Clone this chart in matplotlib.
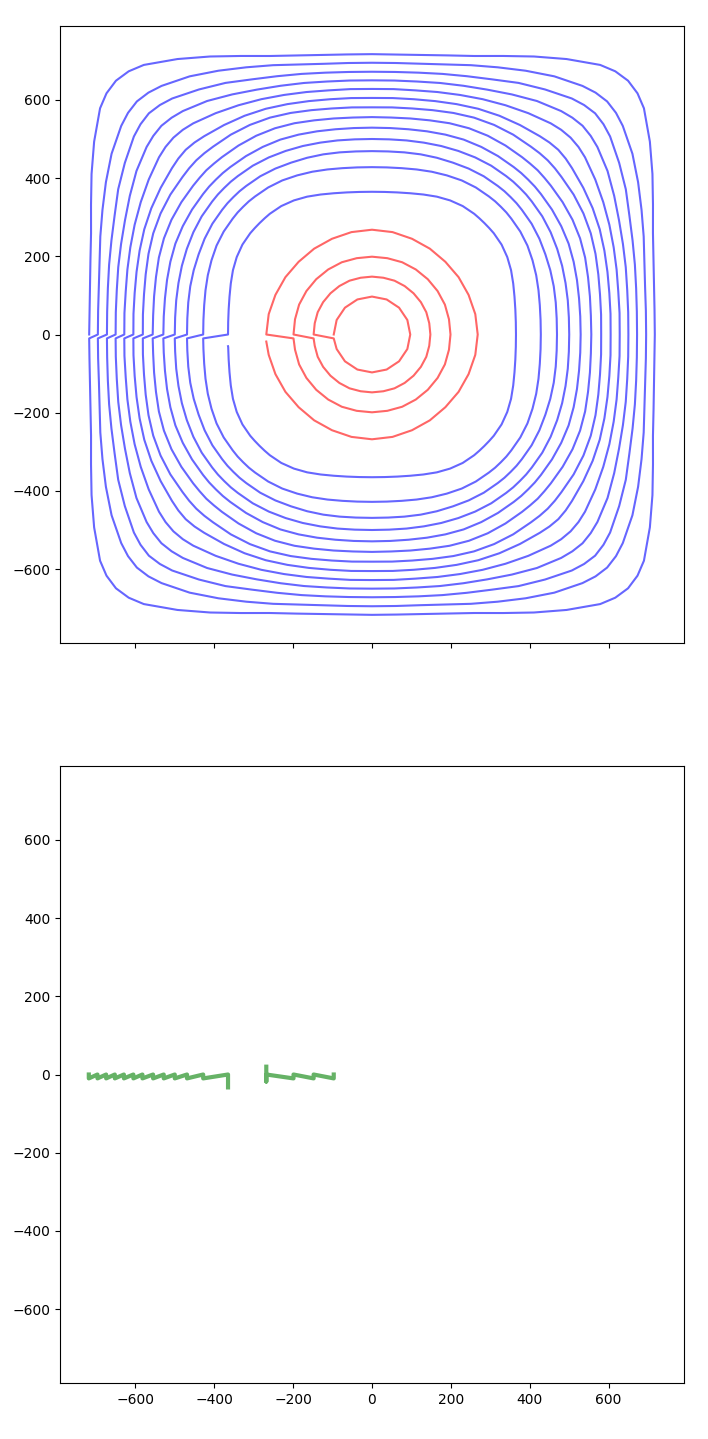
import numpy as np
import matplotlib
matplotlib.use("Agg")
import matplotlib.pyplot as plt

# Blue loops, inner to outer: radius (data units) at angle from the axis (degrees), one octant
blue_angles = [0, 5, 10, 15, 20, 25, 30, 35, 40, 42.5, 45]
blue_radii = [
    [365, 366, 369, 374, 381, 389, 396, 401, 403, 403, 403],
    [428, 429, 432, 437, 443, 449, 455, 459, 461, 462, 462],
    [469, 470, 473, 477, 481, 485, 490, 494, 496, 497, 497],
    [500, 501, 504, 508, 513, 518, 523, 527, 529, 530, 530],
    [529, 530, 533, 538, 544, 550, 554, 557, 559, 560, 560],
    [556, 557, 561, 567, 575, 582, 587, 590, 592, 593, 594],
    [581, 583, 587, 594, 603, 612, 619, 624, 627, 629, 630],
    [605, 607, 611, 618, 627, 637, 646, 654, 662, 666, 668],
    [628, 630, 634, 642, 652, 664, 677, 691, 705, 710, 712],
    [650, 652, 657, 666, 677, 691, 709, 729, 746, 752, 755],
    [672, 674, 680, 690, 703, 720, 743, 765, 788, 796, 800],
    [695, 697, 703, 715, 733, 754, 779, 806, 830, 839, 843],
    [717, 719, 726, 739, 758, 786, 821, 860, 900, 913, 918],
]
blue_start_drop = [30, 10, 10, 10, 10, 10, 10, 10, 10, 10, 10, 10, 10]

# Red loops, outer to inner
red_angles = [
    [0, 11.25, 22.5, 33.75, 45],
    [0, 11.25, 22.5, 33.75, 45],
    [0, 11.25, 22.5, 33.75, 45],
    [0, 22.5, 45],
]
red_radii = [
    [268, 267, 265, 264, 263],
    [199, 199, 200, 200, 200],
    [148, 148, 149, 149, 149],
    [97, 97, 97],
]
red_start_drop = [18, 10, 10, 10]

# Green stems
green_left_x = [-718, -718, -696, -696, -674, -674, -652, -652, -629, -629, -605, -605,
                -582, -582, -555, -555, -528, -528, -500, -500, -469, -469, -428, -428,
                -365, -365]
green_left_y = [0, -10, 0, -10, 0, -10, 0, -10, 0, -10, 0, -10, 0, -10, 0, -10, 0, -10,
                0, -10, 0, -10, 0, -10, 0, -33]
green_right_x = [-268, -268, -268, -199, -199, -148, -148, -97, -97]
green_right_y = [20, -18, 0, -10, 0, -10, 0, -10, 0]

ticks = [-600, -400, -200, 0, 200, 400, 600]


def loop_xy(angles, radii, drop):
    qa = list(angles) + [90 - a for a in angles[-2::-1]]
    qr = list(radii) + list(radii[-2::-1])
    th, rr = [], []
    for q in range(4):
        th += [a + 90 * q for a in qa[:-1]]
        rr += qr[:-1]
    th = np.radians(th[1:] + [360.0])
    rr = np.array(rr[1:] + [radii[0]], dtype=float)
    x = -rr * np.cos(th)
    y = -rr * np.sin(th)
    return np.r_[-radii[0], x], np.r_[-drop, y]


blue_x, blue_y = [], []
for row, d in zip(blue_radii, blue_start_drop):
    x, y = loop_xy(blue_angles, row, d)
    blue_x.append(x)
    blue_y.append(y)
blue_x = np.concatenate(blue_x)
blue_y = np.concatenate(blue_y)

red_x, red_y = [], []
for a, row, d in zip(red_angles, red_radii, red_start_drop):
    x, y = loop_xy(a, row, d)
    red_x.append(x)
    red_y.append(y)
red_x = np.concatenate(red_x)
red_y = np.concatenate(red_y)

W, H = 708, 1439
fig = plt.figure(figsize=(W / 100, H / 100), dpi=100)
ax1 = fig.add_axes([60 / W, 1 - 643 / H, 624 / W, 617 / H])
ax2 = fig.add_axes([60 / W, 1 - 1383 / H, 624 / W, 617 / H], sharex=ax1, sharey=ax1)

ax1.plot(blue_x, blue_y, color="b", alpha=0.6, lw=1.5)
ax1.plot(red_x, red_y, color="r", alpha=0.6, lw=1.5)
ax2.plot(green_left_x, green_left_y, color="g", alpha=0.6, lw=3)
ax2.plot(green_right_x, green_right_y, color="g", alpha=0.6, lw=3)

ax1.set_xlim(-791, 791)
ax1.set_ylim(-789, 789)
ax1.set_xticks(ticks)
ax1.set_yticks(ticks)
ax1.tick_params(labelbottom=False)
fig.savefig("out.png", dpi=100)
